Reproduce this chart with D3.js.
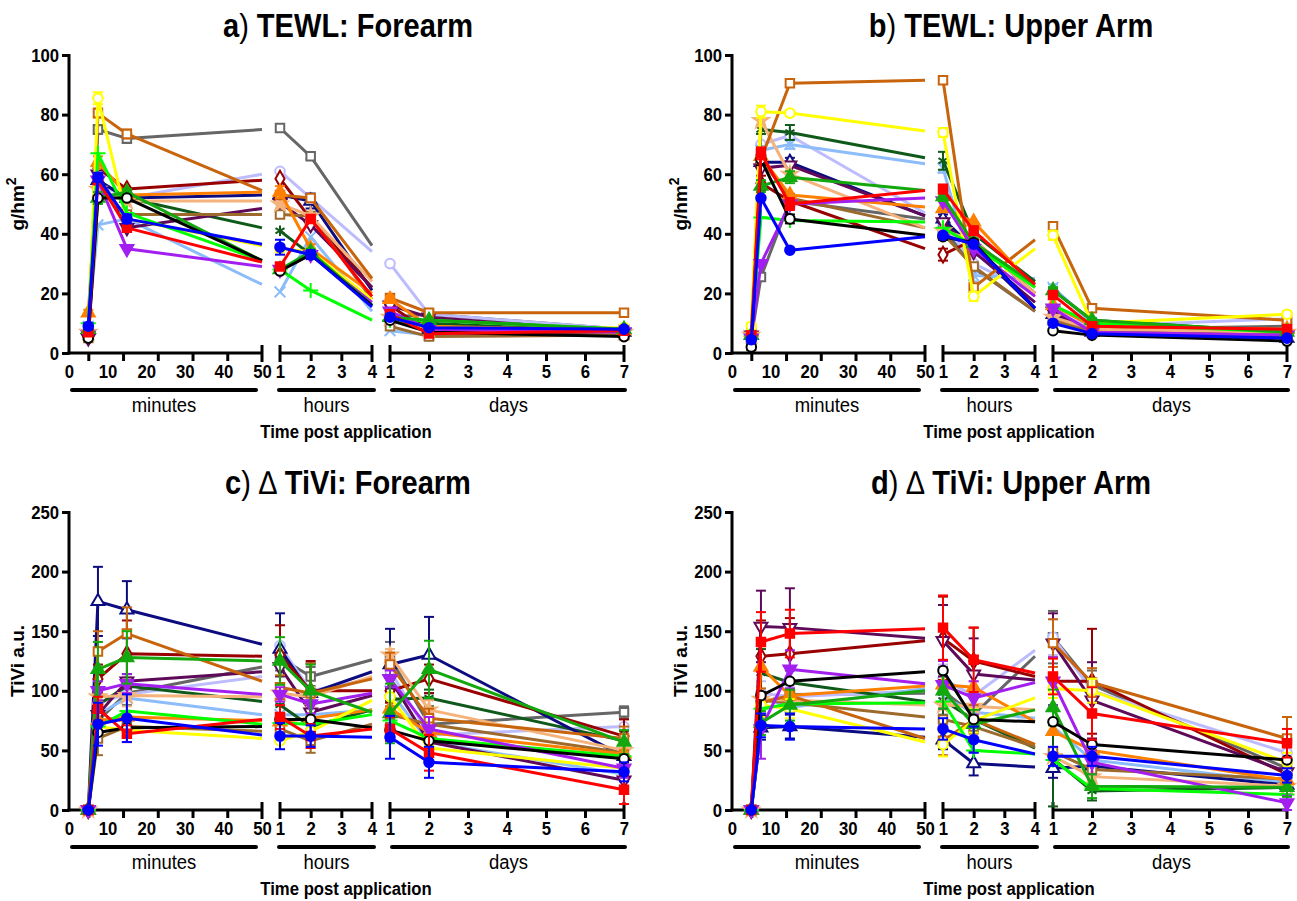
<!DOCTYPE html>
<html>
<head>
<meta charset="utf-8">
<script src="https://cdn.jsdelivr.net/npm/d3@7"></script>
<style>
  body { margin: 0; background: #fff; }
  text { font-family: "Liberation Sans", Arial, sans-serif; fill: #000; }
</style>
</head>
<body>
<script>
const WIDTH = 1297;
const HEIGHT = 901;

// time points: minutes (last one is where the line leaves the axis), hours, days
const minuteTimes = [5, 7.5, 15, 50];
const hourTimes = [1, 2, 4];
const dayTimes = [1, 2, 7];
const minuteTicks = [5, 14, 23, 32, 41];
const minuteLabels = [0, 10, 20, 30, 40, 50];
const hourLabels = [1, 2, 3, 4];
const dayLabels = [1, 2, 3, 4, 5, 6, 7];
const tewlTicks = [0, 20, 40, 60, 80, 100];
const tiviTicks = [0, 50, 100, 150, 200, 250];

// series (drawing order, last drawn on top)
const seriesNames = ["gray", "lavender", "lightblue", "darkgreen", "navy", "darkred", "plum", "brown", "tan",
                     "darkorange", "orange", "yellow", "lime", "purple", "green", "black", "red", "blue"];
const seriesColors = ["#666666", "#bcbcff", "#8cbcfa", "#0f5a1a", "#0c0c80", "#990000", "#5e0a58", "#9c6a2c", "#f5b27a",
                      "#c8640c", "#ff8000", "#ffff00", "#00ff00", "#a31ff0", "#13a80e", "#000000", "#ff0000", "#0000ff"];
const seriesSymbols = ["square", "circle", "times", "asterisk", "triangle", "diamond", "triangledown", "square", "star",
                       "square", "triangle", "circle", "plus", "triangledown", "triangle", "circle", "square", "circle"];
const seriesOpen = [true, true, false, false, true, true, true, true, false,
                    true, false, true, false, false, false, true, false, false];

// values: [5m, 7.5m, 15m, 50m(edge), 1h, 2h, 4h(edge), 1d, 2d, 7d]
const tewlForearm = [
  [6, 75, 72, 75, 75.5, 66, 36, 12, 13, 8],
  [8, 57, 52, 60, 61, 52, 34, 30, 13, 8],
  [9, 43, 45, 23, 20.5, 39, 14, 7.5, 6, 6.5],
  [7, 58, 52, 42, 41, 33, 16, 12, 10, 7],
  [8, 58, 52, 53, 53, 51, 21, 12, 8, 7],
  [6, 62, 55, 58, 58.5, 45, 22, 16, 7, 7],
  [5, 60, 42, 48.5, 50.5, 43, 22, 16, 12, 7],
  [5, 55, 46.5, 46.5, 46.5, 46, 18, 9, 5.5, 6],
  [7, 55, 51, 51, 50, 46, 24, 12, 8, 7],
  [6, 80.5, 73.5, 54.5, 53, 52, 25, 18.5, 13.5, 13.5],
  [13.5, 64, 53, 54, 54, 35, 20, 18, 9, 7.5],
  [7, 85.5, 45, 36, 35, 34, 18, 12, 8, 8.5],
  [10, 67, 47, 31, 28, 21, 11, 11, 11, 8],
  [6, 58, 35, 29, 28, 33, 17, 14, 8, 7],
  [8, 52, 54, 31, 28, 34, 16, 12, 11, 8],
  [5, 52, 52, 31, 27.5, 33, 16, 11, 7, 5.5],
  [7, 58, 42, 30.5, 29, 45, 19, 13, 6.5, 7.5],
  [9, 59, 45, 36.5, 35.5, 33, 15.5, 12, 8.5, 8]
];
const tewlUpperArm = [
  [5, 25.5, 51, 45, 42, 28.5, 14, 12, 8, 9],
  [6, 70, 73, 47, 44, 30, 20, 13, 9, 11.5],
  [6, 68, 70, 63.5, 62, 26, 25, 22, 10, 6],
  [6, 75, 74, 65.5, 64.5, 40, 24, 21, 11, 7],
  [6, 64, 64, 46, 45, 35, 15, 13, 7, 5],
  [6, 57, 51, 35, 33, 38, 20, 12, 8, 6],
  [6, 62, 63, 46, 44, 34, 17, 14, 7, 6],
  [6, 65, 52, 42, 40, 29, 14, 11, 7, 6],
  [6, 78, 60, 42, 41, 38, 20, 12, 8, 7],
  [7, 65, 90.5, 91.5, 91.5, 22, 38, 42.5, 15, 11],
  [7, 66, 53, 49, 48.5, 44, 22, 16, 9, 8],
  [9, 81, 80.5, 74.5, 74, 19, 35, 39.5, 10, 13],
  [6, 45.5, 44.5, 44, 42, 36, 22, 16, 10, 7],
  [5, 30, 50, 52, 51, 35, 19, 15, 7, 6],
  [6, 56, 59, 54.5, 52.5, 37, 23, 21, 11, 7],
  [2, 65, 45, 39.5, 39, 37, 15, 7.5, 6, 4],
  [6, 67, 50, 54.5, 55, 41, 23, 19.5, 9, 8],
  [4.5, 52, 34.5, 39, 39.5, 36.5, 15, 10, 6.5, 5]
];
const tiviForearm = [
  [0, 75, 98, 120, 128, 112, 126, 128, 72, 82],
  [0, 90, 97, 112, 138, 100, 110, 117, 63, 70],
  [0, 80, 94, 80, 80, 80, 84, 100, 57, 30],
  [0, 88, 104, 91, 88, 70, 84, 93, 94, 58],
  [0, 175, 168, 139, 135, 98, 116, 122, 130, 45],
  [0, 110, 131, 129, 130, 100, 100, 100, 110, 62],
  [0, 80, 108, 116, 120, 82, 96, 110, 57, 25],
  [0, 60, 70, 66, 68, 58, 72, 80, 72, 48],
  [0, 95, 96, 95, 98, 95, 112, 130, 84, 50],
  [0, 133, 148, 108, 103, 98, 110, 122, 77, 60],
  [0, 75, 78, 75, 74, 77, 84, 85, 65, 47],
  [0, 70, 67, 60, 58, 66, 92, 95, 52, 35],
  [0, 70, 83, 72, 73, 72, 80, 75, 60, 45],
  [0, 100, 106, 97, 97, 89, 98, 110, 68, 35],
  [0, 118, 128, 125, 125, 100, 82, 81, 118, 57],
  [0, 65, 69, 70, 76, 76, 69, 67, 58, 43],
  [0, 85, 64, 76, 78, 62, 68, 68, 48, 17],
  [0, 72, 77, 63, 62, 62, 61, 61, 40, 32]
];
const tiviUpperArm = [
  [0, 90, 97, 98, 100, 80, 129, 145, 105, 35],
  [0, 98, 95, 100, 110, 96, 134, 145, 100, 48],
  [0, 95, 86, 102, 95, 82, 77, 70, 42, 23],
  [0, 115, 107, 91, 92, 76, 52, 43, 16, 19],
  [0, 69, 70, 61, 59, 39, 36, 35, 37, 21],
  [0, 129, 131, 142, 144, 125, 112, 108, 108, 30],
  [0, 154, 153, 144, 142, 114, 109, 140, 92, 32],
  [0, 92, 90, 78, 76, 70, 53, 49, 34, 26],
  [0, 93, 92, 88, 88, 87, 84, 45, 28, 20],
  [0, 90, 96, 60, 58, 76, 55, 140, 107, 60],
  [0, 120, 96, 104, 105, 103, 74, 66, 50, 25],
  [0, 88, 85, 57, 55, 75, 94, 102, 100, 40],
  [0, 85, 89, 90, 91, 50, 47, 42, 18, 13],
  [0, 68, 118, 106, 105, 94, 107, 108, 40, 6],
  [0, 73, 88, 100, 100, 72, 84, 86, 20, 19],
  [0, 96, 108, 116, 117, 76, 74, 74, 55, 42],
  [0, 141, 148, 152, 153, 126, 115, 112, 81, 56],
  [0, 71, 70, 68, 68, 59, 47, 45, 45, 29]
];

// error bars (SEM) at the marked points: [5m, 7.5m, 15m, 1h, 2h, 1d, 2d, 7d]
const tewlForearmErr = {
  yellow: [0, 2, 1, 1, 1, 1, 0.5, 1],
  gray: [0, 1.5, 1.5, 1, 1, 1, 1, 0.5],
  darkorange: [0, 1.5, 1.5, 1, 1, 1, 0.5, 1],
  navy: [0, 1.5, 1, 1, 2.5, 1, 0.5, 0.5],
  orange: [1, 2, 1, 2, 1.5, 1, 0.5, 0.5],
  blue: [1, 1.5, 1.5, 2.5, 1.5, 1, 0.5, 0.5],
  green: [0, 2, 1, 1, 1, 1, 0.5, 0.5]
};
const tewlUpperArmErr = {
  yellow: [1, 2, 1, 1.5, 1.5, 1.5, 0.5, 1],
  darkgreen: [0, 1.5, 2.5, 3, 1.5, 1, 0.5, 0.5],
  green: [0, 2, 2, 1.5, 1.5, 1, 0.5, 0.5],
  black: [1, 2, 1.5, 1, 1, 0.5, 0.5, 0.5],
  darkred: [0, 2.5, 1.5, 2, 1.5, 1, 0.5, 0.5],
  red: [1, 2, 2, 1.5, 1.5, 1, 0.5, 0.5],
  navy: [0, 1.5, 1.5, 1.5, 1.5, 1, 0.5, 0.5],
  lightblue: [0, 1.5, 1.5, 1.5, 2, 1, 0.5, 0.5]
};
const tiviForearmErr = {
  navy: [0, 29, 24, 30, 25, 30, 32, 15],
  darkorange: [0, 17, 22, 10, 25, 10, 8, 10],
  darkred: [0, 12, 28, 25, 25, 10, 12, 14],
  green: [0, 23, 22, 20, 22, 25, 24, 10],
  blue: [0, 18, 20, 11, 9, 18, 13, 8],
  red: [0, 10, 7, 10, 10, 10, 15, 12],
  gray: [0, 9, 10, 11, 8, 13, 8, 5],
  brown: [0, 14, 8, 8, 10, 7, 9, 8],
  tan: [0, 8, 9, 7, 8, 5, 8, 10],
  purple: [0, 8, 8, 6, 8, 7, 10, 8],
  plum: [0, 9, 6, 8, 7, 8, 8, 6],
  darkgreen: [0, 10, 7, 9, 8, 9, 7, 8]
};
const tiviUpperArmErr = {
  plum: [0, 30, 33, 30, 30, 25, 32, 8],
  red: [0, 25, 20, 27, 27, 15, 22, 12],
  darkred: [0, 30, 30, 35, 28, 20, 44, 10],
  purple: [0, 25, 16, 20, 14, 20, 10, 6],
  blue: [0, 10, 11, 9, 11, 8, 8, 6],
  navy: [0, 10, 10, 8, 10, 8, 6, 5],
  darkgreen: [0, 20, 10, 15, 10, 40, 8, 6],
  gray: [0, 10, 10, 20, 15, 22, 12, 8],
  darkorange: [0, 12, 10, 12, 12, 20, 12, 18],
  yellow: [0, 10, 8, 10, 10, 8, 10, 8],
  lavender: [0, 10, 8, 12, 12, 15, 10, 8],
  green: [0, 10, 13, 15, 12, 15, 10, 8]
};

const panels = [
  { letter: "a", delta: false, title: " TEWL: Forearm", yLabel: "tewl", left: 69, top: 55, yMax: 100, yTicks: tewlTicks, data: tewlForearm, err: tewlForearmErr },
  { letter: "b", delta: false, title: " TEWL: Upper Arm", yLabel: "tewl", left: 732, top: 55, yMax: 100, yTicks: tewlTicks, data: tewlUpperArm, err: tewlUpperArmErr },
  { letter: "c", delta: true, title: " TiVi: Forearm", yLabel: "tivi", left: 69, top: 512, yMax: 250, yTicks: tiviTicks, data: tiviForearm, err: tiviForearmErr },
  { letter: "d", delta: true, title: " TiVi: Upper Arm", yLabel: "tivi", left: 732, top: 512, yMax: 250, yTicks: tiviTicks, data: tiviUpperArm, err: tiviUpperArmErr }
];

const PLOT_H = 298;
const AXIS_W = 3;
const NARROW = 0.88; // horizontal squeeze to mimic the condensed typeface

const symbolTypes = {
  circle: d3.symbolCircle, square: d3.symbolSquare, triangle: d3.symbolTriangle,
  triangledown: d3.symbolTriangle, diamond: d3.symbolDiamond, times: d3.symbolTimes,
  asterisk: d3.symbolAsterisk, plus: d3.symbolPlus, star: d3.symbolStar
};

let svg = d3.select("body")
            .append("svg")
            .attr("width", WIDTH)
            .attr("height", HEIGHT);

// squeeze every tick label of an axis group horizontally around its own anchor
const squeezeTicks = (sel, size) => {
  sel.selectAll(".tick text")
     .style("font-size", size + "px")
     .style("font-weight", "bold")
     .style("font-family", "'Liberation Sans',Arial,sans-serif")
     .attr("transform", function() {
       const anchorX = +d3.select(this).attr("x") || 0;
       return `translate(${anchorX * (1 - NARROW)},0) scale(${NARROW},1)`;
     });
};

const drawPanel = (p) => {
  const L = p.left;
  const T = p.top;
  const B = p.top + PLOT_H;
  const g = svg.append("g");

  const y = d3.scaleLinear().domain([0, p.yMax]).range([B, T]);
  const xMin = d3.scaleLinear().domain([0, 50]).range([L, L + 193]);
  const xHr = d3.scaleLinear().domain([1, 4]).range([L + 211, L + 303]);
  const xDay = d3.scaleLinear().domain([1, 7]).range([L + 321, L + 555]);

  // title
  const title = g.append("text")
                 .attr("transform", `translate(${L + 279},${T - 18}) scale(${NARROW},1)`)
                 .attr("text-anchor", "middle")
                 .style("font-size", "33px")
                 .style("font-weight", "bold");
  title.append("tspan").text(p.letter);
  title.append("tspan").style("font-weight", "normal").text(")");
  if (p.delta) title.append("tspan").style("font-weight", "normal").text(" \u2206");
  title.append("tspan").text(p.title);

  // y axis title
  const yt = g.append("text")
              .attr("transform", `translate(${L - 45},${(T + B) / 2}) rotate(-90)`)
              .attr("text-anchor", "middle")
              .style("font-size", "19px")
              .style("font-weight", "bold");
  if (p.yLabel === "tewl") {
    yt.append("tspan").text("g/hm");
    yt.append("tspan").attr("dy", -8).style("font-size", "14px").text("2");
  } else {
    yt.text("TiVi a.u.");
  }

  // y axis
  const yAxis = g.append("g")
                 .attr("transform", `translate(${L},0)`)
                 .call(d3.axisLeft(y).tickValues(p.yTicks).tickSizeInner(7).tickSizeOuter(0).tickPadding(3));
  yAxis.select(".domain").attr("stroke-width", AXIS_W).attr("d", `M0,${B + 1.5}V${T - 1}`);
  yAxis.selectAll(".tick line").attr("stroke-width", AXIS_W);
  squeezeTicks(yAxis, 19);

  // x axes (three broken segments)
  const segs = [
    { scale: xMin, minor: minuteTicks, labels: minuteLabels, lo: 0, hi: 50, startCap: false, name: "minutes", bar: [L + 3, L + 187] },
    { scale: xHr, minor: [2, 3], labels: hourLabels, lo: 1, hi: 4, startCap: true, name: "hours", bar: [L + 210, L + 305] },
    { scale: xDay, minor: [2, 3, 4, 5, 6], labels: dayLabels, lo: 1, hi: 7, startCap: true, name: "days", bar: [L + 323, L + 556] }
  ];
  segs.forEach(s => {
    const ax = g.append("g")
                .attr("transform", `translate(0,${B})`)
                .call(d3.axisBottom(s.scale).tickValues(s.minor).tickSizeInner(8).tickSizeOuter(0).tickFormat(""));
    const x0 = s.startCap ? s.scale(s.lo) : L - 1.5;
    ax.select(".domain").attr("stroke-width", AXIS_W).attr("d", `M${x0},0H${s.scale(s.hi)}`);
    ax.selectAll(".tick line").attr("stroke-width", AXIS_W);

    const caps = s.startCap ? [s.lo, s.hi] : [s.hi];
    ax.selectAll("line.cap")
      .data(caps).enter()
      .append("line")
      .attr("class", "cap")
      .attr("x1", d => s.scale(d)).attr("x2", d => s.scale(d))
      .attr("y1", -8).attr("y2", 9)
      .attr("stroke", "#000").attr("stroke-width", AXIS_W);

    const lab = g.append("g")
                 .attr("transform", `translate(0,${B})`)
                 .call(d3.axisBottom(s.scale).tickValues(s.labels).tickFormat(d3.format("d")).tickSize(0).tickPadding(12));
    lab.select(".domain").remove();
    squeezeTicks(lab, 19);

    g.append("line")
     .attr("x1", s.bar[0]).attr("x2", s.bar[1])
     .attr("y1", B + 37).attr("y2", B + 37)
     .attr("stroke", "#000").attr("stroke-width", 4).attr("stroke-linecap", "round");
    g.append("text")
     .attr("transform", `translate(${(s.bar[0] + s.bar[1]) / 2},${B + 59}) scale(${NARROW},1)`)
     .attr("text-anchor", "middle")
     .style("font-size", "21px")
     .text(s.name);
  });

  g.append("text")
   .attr("transform", `translate(${L + 277},${B + 85}) scale(${NARROW},1)`)
   .attr("text-anchor", "middle")
   .style("font-size", "19px")
   .style("font-weight", "bold")
   .text("Time post application");

  // series
  const line = d3.line().x(d => d.x).y(d => d.y);
  p.data.forEach((vals, i) => {
    const color = seriesColors[i];
    const errs = p.err[seriesNames[i]];
    const segPts = [
      minuteTimes.map((t, k) => ({ x: xMin(t), y: y(vals[k]), v: vals[k], mark: k < 3, e: k < 3 && errs ? errs[k] : 0 })),
      hourTimes.map((t, k) => ({ x: xHr(t), y: y(vals[4 + k]), v: vals[4 + k], mark: k < 2, e: k < 2 && errs ? errs[3 + k] : 0 })),
      dayTimes.map((t, k) => ({ x: xDay(t), y: y(vals[7 + k]), v: vals[7 + k], mark: true, e: errs ? errs[5 + k] : 0 }))
    ];
    const sg = g.append("g").attr("class", "series-" + seriesNames[i]);
    segPts.forEach(pts => {
      // error bars
      pts.filter(d => d.mark && d.e > 0).forEach(d => {
        const top = y(d.v + d.e);
        const bot = y(Math.max(0, d.v - d.e));
        sg.append("line").attr("x1", d.x).attr("x2", d.x).attr("y1", top).attr("y2", bot)
          .attr("stroke", color).attr("stroke-width", 2);
        [top, bot].forEach(yy => {
          sg.append("line").attr("x1", d.x - 5).attr("x2", d.x + 5).attr("y1", yy).attr("y2", yy)
            .attr("stroke", color).attr("stroke-width", 2);
        });
      });
      sg.append("path")
        .attr("d", line(pts))
        .attr("fill", "none")
        .attr("stroke", color)
        .attr("stroke-width", 3)
        .attr("stroke-linejoin", "round");
      const sym = seriesSymbols[i];
      const open = seriesOpen[i];
      const stroked = sym === "times" || sym === "asterisk" || sym === "plus";
      sg.selectAll(null)
        .data(pts.filter(d => d.mark)).enter()
        .append("path")
        .attr("transform", d => `translate(${d.x},${d.y})` + (sym === "triangledown" ? " rotate(180)" : ""))
        .attr("d", d3.symbol().type(symbolTypes[sym]).size(stroked ? 76 : 72))
        .attr("fill", stroked ? "none" : (open ? "#fff" : color))
        .attr("stroke", color)
        .attr("stroke-width", 2);
    });
  });
};

panels.forEach(drawPanel);
</script>
</body>
</html>
